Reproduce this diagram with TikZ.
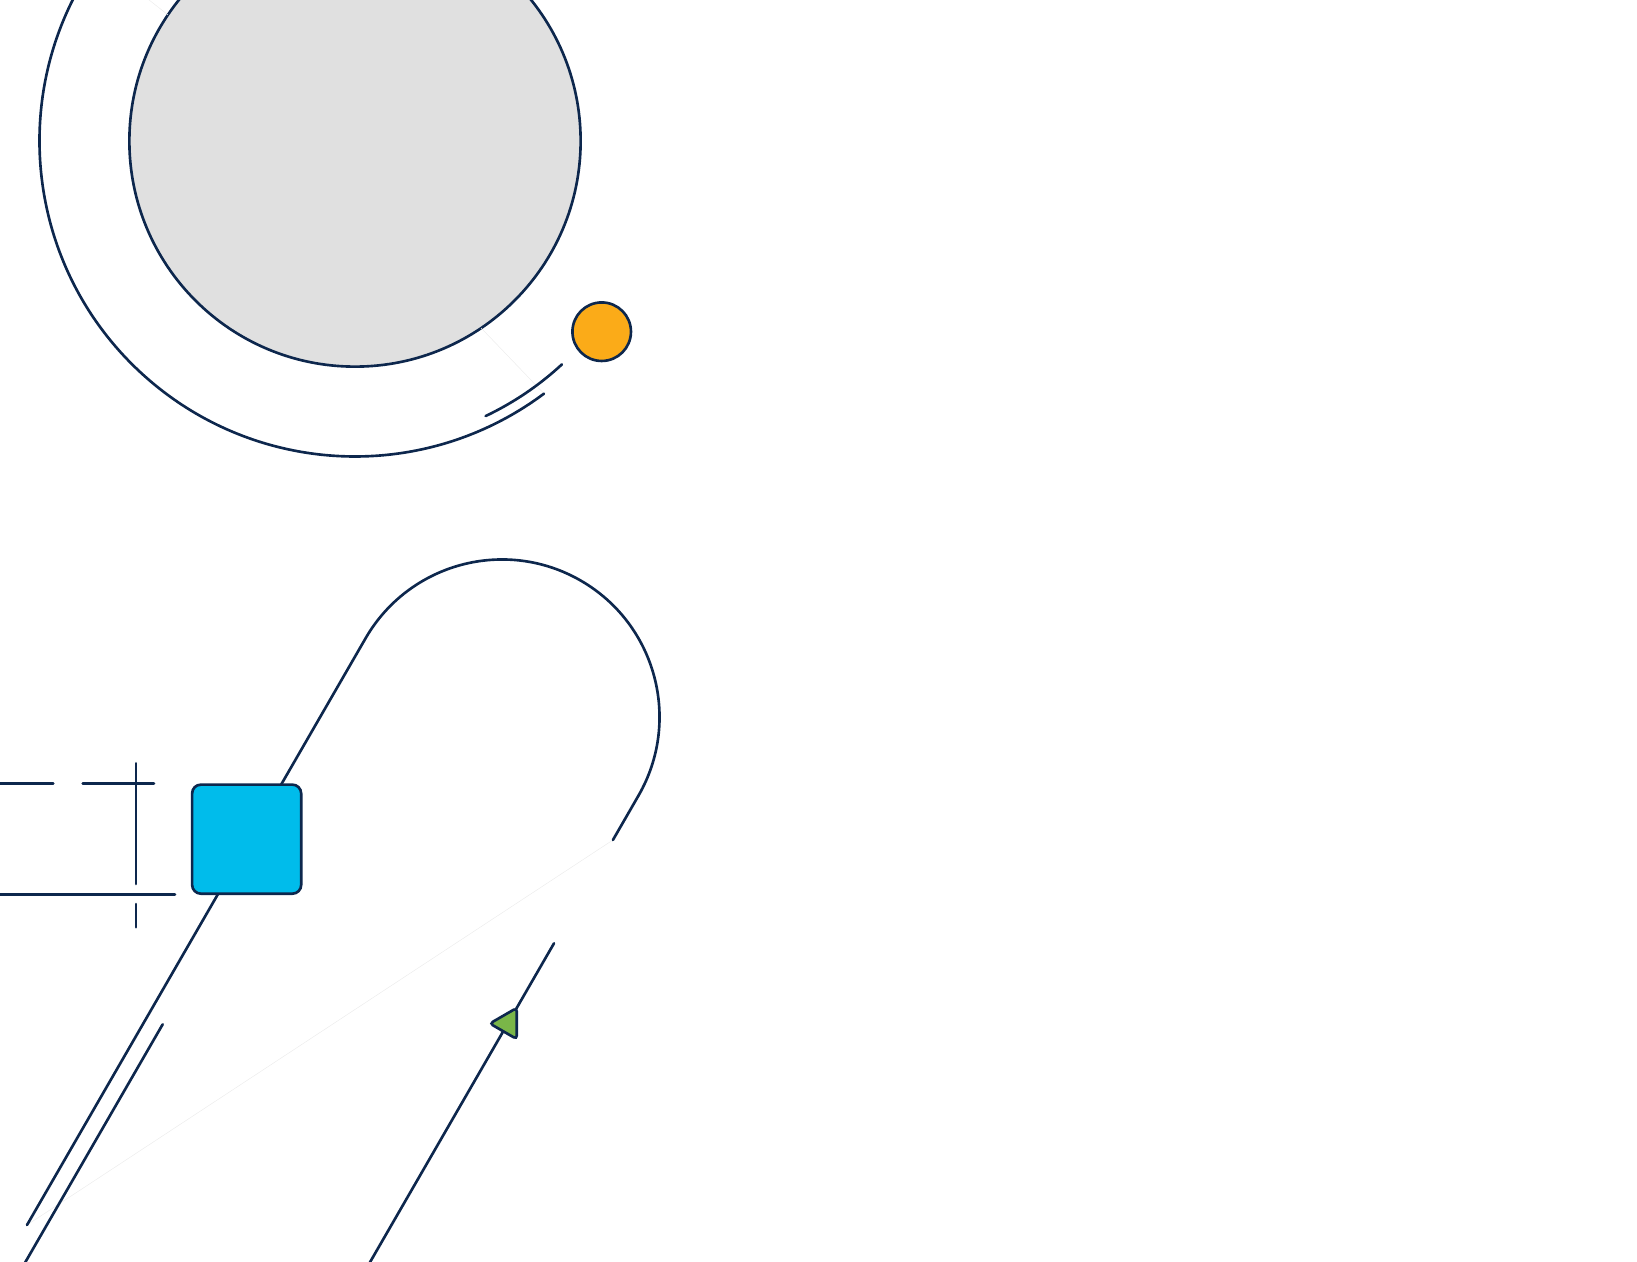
\documentclass[tikz,border=0pt]{standalone}
\usepackage{tikz}
\usepackage{xcolor}
\usetikzlibrary{shapes}
\definecolor{navy}{HTML}{0D274D}
\definecolor{discgray}{HTML}{E0E0E0}
\definecolor{amber}{HTML}{FBAB18}
\definecolor{skyblue}{HTML}{00BCEB}
\definecolor{leaf}{HTML}{7AB648}

\begin{document}
\begin{tikzpicture}[x=0.01cm,y=0.01cm]
  \useasboundingbox (0,0) rectangle (1637,-1261);
  \clip (0,0) rectangle (1637,-1261);
  \tikzstyle{wire}=[draw=navy,line width=0.75pt,line cap=round]
  \tikzstyle{ghost}=[draw=black!7,line width=0.15pt]
  \tikzstyle{every node}=[draw=navy,line width=0.75pt,inner sep=0pt,outer sep=0pt]
  \coordinate (hub) at (355,-141);
  \coordinate (orbitend) at ([shift={(-53.2:315.5)}]hub);
  \coordinate (loopc) at (502,-717);
  \coordinate (foot) at (27,-1225);
  \coordinate (rend) at (612.9,-840);
  \coordinate (railtop) at (162.7,-1024.3);
  \coordinate (railend) at (20.8,-1270);
  \coordinate (stub) at (554,-943.3);
  \coordinate (stubend) at (365.5,-1270);
  % orbit
  \node[circle,fill=discgray,minimum size=4.51cm] (disc) at (hub) {};
  \draw[ghost] (disc.146.5) -- (130,15);
  \draw[ghost] (disc.-56.5) -- (orbitend);
  \draw[wire] (hub) ++(140:315.5) arc[start angle=140,end angle=306.8,radius=315.5];
  \draw[wire] (hub) ++(-64.6:304.5) arc[start angle=-64.6,end angle=-47.2,radius=304.5];
  \node[circle,fill=amber,minimum size=0.585cm] (dot) at (601.7,-331.7) {};
  % loop
  \draw[ghost] (rend) -- (foot);
  \draw[wire] (foot) -- ([shift={(150:157.5)}]loopc)
    arc[start angle=150,end angle=-30,radius=157.5] -- (rend);
  \draw[wire] (railtop) -- (railend);
  \draw[wire] (stub) -- (stubend);
  \draw[wire] (0,-783.7) -- (53.3,-783.7) (82.7,-783.7) -- (154,-783.7);
  \draw[wire] (136,-763.3) -- (136,-884) (136,-904) -- (136,-927.3);
  \draw[wire] (0,-894.7) -- (175,-894.7);
  \node[rectangle,rounded corners=2.5pt,fill=skyblue,minimum size=1.09cm] (box) at (246.65,-839.15) {};
  \node[regular polygon,regular polygon sides=3,shape border rotate=90,fill=leaf,
    rounded corners=1pt,minimum size=0.36cm] (tip) at (507.8,-1023.5) {};
\end{tikzpicture}
\end{document}
